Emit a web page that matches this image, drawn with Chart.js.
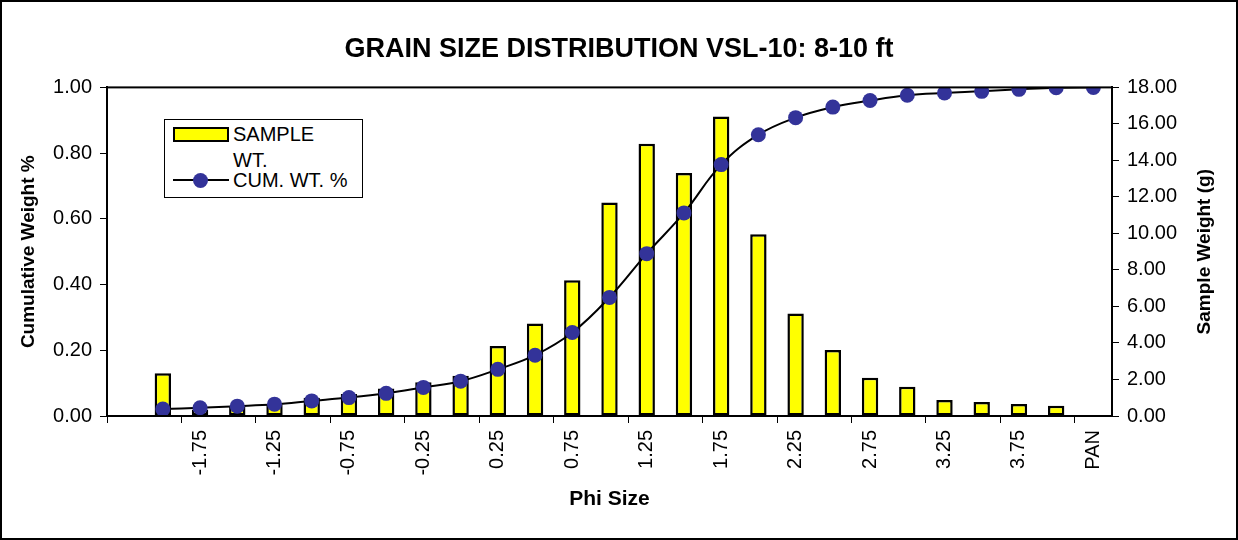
<!DOCTYPE html>
<html>
<head>
<meta charset="utf-8">
<script src="https://cdn.jsdelivr.net/npm/chart.js@4"></script>
<style>
  body { margin: 0; background: #fff; }
  #wrap { position: relative; width: 1238px; height: 540px; }
  #legendBox {
    position: absolute; left: 164px; top: 119px; width: 197px; height: 77px;
    border: 1px solid #000; background: #fff;
    font-family: 'Liberation Sans', Arial, sans-serif; font-size: 20px; line-height: 20px; color: #000;
  }
  #legendBox .txt { position: absolute; white-space: nowrap; }
  #legendBox .swatch { position: absolute; left: 8px; top: 7px; width: 52px; height: 11px; background: #ffff00; border: 2px solid #000; }
  #legendBox .ln { position: absolute; left: 8px; top: 59px; width: 56px; height: 2px; background: #000; }
  #legendBox .dot { position: absolute; left: 28px; top: 53px; width: 15px; height: 15px; border-radius: 50%; background: #333399; }
</style>
</head>
<body>
<div id="wrap">
  <canvas id="grainChart" width="1238" height="540"></canvas>
  <div id="legendBox">
    <div class="swatch"></div>
    <div class="txt" style="left:68px; top:4px;">SAMPLE</div>
    <div class="txt" style="left:68px; top:30px;">WT.</div>
    <div class="ln"></div>
    <div class="dot"></div>
    <div class="txt" style="left:68px; top:50px;">CUM. WT. %</div>
  </div>
</div>
<script>
'use strict';

/* ── data ── */
const phiLabels = ['', '-2.00', '-1.75', '-1.50', '-1.25', '-1.00', '-0.75', '-0.50', '-0.25', '0.00',
    '0.25', '0.50', '0.75', '1.00', '1.25', '1.50', '1.75', '2.00', '2.25', '2.50',
    '2.75', '3.00', '3.25', '3.50', '3.75', '4.00', 'PAN'];

const sampleWt = [null, 2.34, 0.35, 0.55, 0.65, 1.00, 1.20, 1.50, 1.85, 2.20,
    3.83, 5.07, 7.44, 11.69, 14.92, 13.31, 16.41, 9.96, 5.62, 3.61,
    2.10, 1.60, 0.88, 0.77, 0.66, 0.56, 0];

const cumWt = [null, 0.021, 0.025, 0.030, 0.036, 0.046, 0.056, 0.069, 0.087, 0.106,
    0.142, 0.185, 0.254, 0.361, 0.494, 0.618, 0.765, 0.856, 0.908, 0.940,
    0.960, 0.976, 0.983, 0.988, 0.994, 0.999, 1.000];

const FONT = "'Liberation Sans', Arial, sans-serif";
Chart.defaults.font.family = FONT;
Chart.defaults.color = '#000';

/* plot box, outer frame, and the right axis title (reads bottom-up like Excel) */
const framePlugin = {
    id: 'frame',
    afterDraw(chart) {
        const { ctx, chartArea: a } = chart;
        ctx.save();
        ctx.strokeStyle = '#000';
        ctx.lineWidth = 2;
        ctx.strokeRect(a.left, a.top, a.right - a.left, a.bottom - a.top);
        ctx.strokeRect(1, 1, chart.width - 2, chart.height - 2);

        ctx.translate(1205, (a.top + a.bottom) / 2);
        ctx.rotate(-Math.PI / 2);
        ctx.font = 'bold 19px ' + FONT;
        ctx.fillStyle = '#000';
        ctx.textAlign = 'center';
        ctx.textBaseline = 'middle';
        ctx.fillText('Sample Weight (g)', 0, 0);
        ctx.restore();
    },
};

const ctx = document.getElementById('grainChart').getContext('2d');
new Chart(ctx, {
    type: 'bar',
    data: {
        labels: phiLabels,
        datasets: [
            {
                type: 'line',
                label: 'CUM. WT. %',
                data: cumWt,
                yAxisID: 'y',
                borderColor: '#000',
                borderWidth: 2,
                tension: 0.4,
                pointRadius: 7.5,
                pointBackgroundColor: '#333399',
                pointBorderWidth: 0,
                order: 0,
            },
            {
                label: 'SAMPLE WT.',
                data: sampleWt,
                yAxisID: 'y1',
                backgroundColor: '#ffff00',
                borderColor: '#000',
                borderWidth: 2.5,
                borderSkipped: false,
                barPercentage: 0.44,
                categoryPercentage: 1,
                order: 1,
            },
        ],
    },
    options: {
        responsive: false,
        animation: false,
        layout: { padding: 0 },
        plugins: {
            legend: { display: false },
            tooltip: { enabled: false },
            title: {
                display: true,
                text: 'GRAIN SIZE DISTRIBUTION VSL-10: 8-10 ft',
                font: { size: 27, weight: 'bold' },
                padding: { top: 33, bottom: 22 },
            },
        },
        scales: {
            x: {
                offset: true,
                afterFit: s => { s.height = 124; },
                grid: {
                    offset: true,
                    drawOnChartArea: false,
                    tickLength: 7,
                    tickColor: c => (c.index % 2 === 0 ? '#000' : 'rgba(0,0,0,0)'),
                },
                border: { color: '#000', width: 2 },
                ticks: {
                    autoSkip: false,
                    minRotation: 90,
                    maxRotation: 90,
                    padding: 7,
                    font: { size: 20 },
                    callback: (v, i) => (i % 2 === 0 ? phiLabels[i] : ''),
                },
                title: { display: true, text: 'Phi Size', font: { size: 21, weight: 'bold' }, padding: { top: 0, bottom: 28 } },
            },
            y: {
                position: 'left',
                min: 0,
                max: 1,
                afterFit: s => { s.width = 107; },
                grid: { drawOnChartArea: false, tickLength: 7, tickColor: '#000' },
                border: { color: '#000', width: 2 },
                ticks: { stepSize: 0.2, padding: 8, font: { size: 20 }, callback: v => v.toFixed(2) },
                title: { display: true, text: 'Cumulative Weight %', font: { size: 19, weight: 'bold' }, padding: { top: 17, bottom: 0 } },
            },
            y1: {
                position: 'right',
                min: 0,
                max: 18,
                afterFit: s => { s.width = 126; },
                grid: { drawOnChartArea: false, tickLength: 7, tickColor: '#000' },
                border: { color: '#000', width: 2 },
                ticks: { stepSize: 2, padding: 8, font: { size: 20 }, callback: v => v.toFixed(2) },
                title: { display: false },
            },
        },
    },
    plugins: [framePlugin],
});
</script>
</body>
</html>
